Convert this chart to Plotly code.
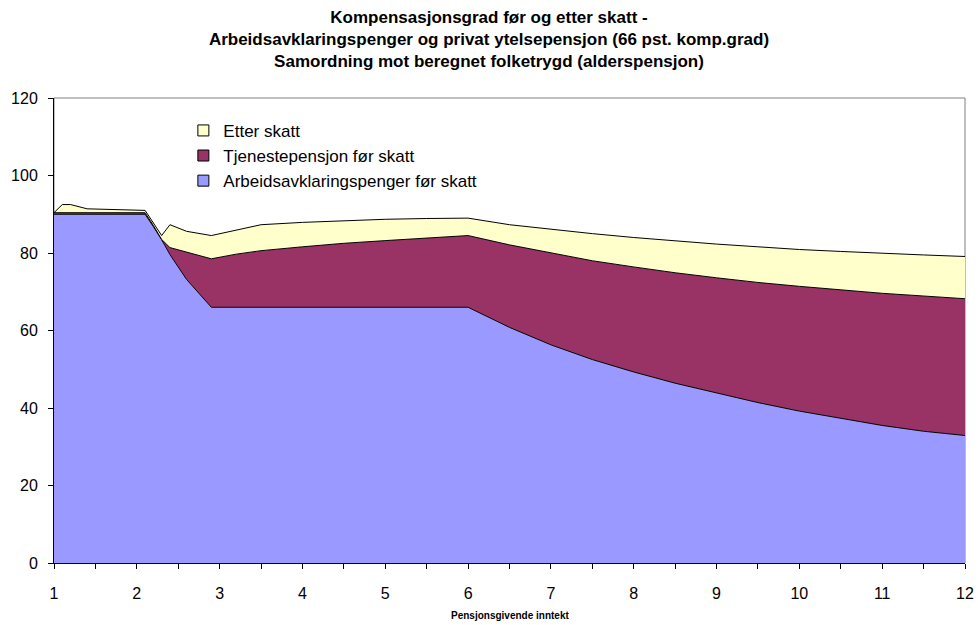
import plotly.graph_objects as go

x_inntekt = [1, 1.1, 1.2, 1.4, 2.1, 2.2, 2.3, 2.4, 2.6, 2.9, 3.2, 3.5, 4, 4.5, 5, 5.5, 6,
             6.5, 7, 7.5, 8, 8.5, 9, 9.5, 10, 10.5, 11, 11.5, 12]
arbeidsavklaring = [90, 90, 90, 90, 90, 86.8, 83.4, 79.6, 73.2, 66, 66, 66, 66, 66, 66, 66, 66,
                    60.8, 56.3, 52.5, 49.3, 46.4, 43.8, 41.4, 39.2, 37.3, 35.5, 34.0, 32.9]
tjenestepensjon = [0.4, 0.4, 0.4, 0.4, 0.4, 0.3, 0.1, 1.8, 7.0, 12.5, 13.7, 14.6, 15.6, 16.5, 17.2, 17.9, 18.5,
                   21.3, 23.7, 25.5, 27.1, 28.5, 29.8, 31.0, 32.2, 33.2, 34.1, 34.9, 35.3]
etter_skatt = [0, 2.1, 2.1, 1.0, 0.6, 0.7, 1.0, 5.9, 5.4, 6.0, 6.3, 6.7, 6.3, 5.8, 5.5, 5.0, 4.5,
               5.2, 6.1, 7.0, 7.6, 8.2, 8.7, 9.2, 9.5, 9.9, 10.3, 10.6, 10.9]

names = ["Arbeidsavklaringspenger før skatt", "Tjenestepensjon før skatt", "Etter skatt"]
colors = ["#9999FF", "#993366", "#FFFFCC"]
series = [arbeidsavklaring, tjenestepensjon, etter_skatt]

fig = go.Figure()
for name, col, vals in zip(names, colors, series):
    fig.add_trace(go.Scatter(
        x=x_inntekt, y=vals, name=name, stackgroup="one", mode="lines",
        line=dict(color="black", width=1), fillcolor=col, showlegend=False,
        hoverinfo="skip"))

# legend entries with small square swatches
for name, col in zip(names, colors):
    fig.add_trace(go.Scatter(
        x=[None], y=[None], name=name, mode="markers",
        marker=dict(symbol="square", size=11, color=col, line=dict(color="black", width=1))))

font = "Liberation Sans, Arial, sans-serif"
fig.update_layout(
    width=978, height=625,
    margin=dict(l=54, r=13, t=98, b=62, autoexpand=False),
    paper_bgcolor="white", plot_bgcolor="white",
    font=dict(family=font, size=16, color="black"),
    title=dict(
        text="<b>Kompensasjonsgrad før og etter skatt -<br>"
             "Arbeidsavklaringspenger og privat ytelsepensjon (66 pst. komp.grad)<br>"
             "Samordning mot beregnet folketrygd (alderspensjon)</b>",
        x=0.5, xanchor="center", y=0.963, yanchor="top", automargin=False,
        font=dict(family=font, size=17, color="black")),
    legend=dict(x=0.142, y=0.968, xanchor="left", yanchor="top",
                traceorder="reversed", bgcolor="rgba(0,0,0,0)",
                font=dict(family=font, size=17), itemwidth=30,
                tracegroupgap=0),
    showlegend=True,
    xaxis=dict(range=[1, 12], dtick=1, tick0=1, ticks="outside", ticklen=5,
               tickcolor="black", showline=True, linecolor="black", linewidth=1,
               showgrid=False, zeroline=False, ticklabelstandoff=11, automargin=False,
               tickfont=dict(size=16),
               minor=dict(dtick=0.5, ticks="outside", ticklen=5, tickcolor="black")),
    yaxis=dict(range=[0, 120], dtick=20, ticks="outside", ticklen=5,
               tickcolor="black", showline=True, linecolor="black", linewidth=1,
               showgrid=False, zeroline=False, tickfont=dict(size=16),
               ticklabelstandoff=7, automargin=False),
    annotations=[dict(text="<b>Pensjonsgivende inntekt</b>", xref="paper", yref="paper",
                      x=0.5, y=0, xanchor="center", yanchor="top", yshift=-45,
                      showarrow=False, font=dict(family=font, size=10, color="black"))],
    shapes=[dict(type="rect", xref="paper", yref="paper", x0=0, y0=0, x1=1, y1=1,
                 line=dict(color="#808080", width=1), layer="below")],
)

fig.write_html("out.html", config={"displayModeBar": False},
               post_script="document.body.style.margin='0';document.body.style.overflow='hidden';")
